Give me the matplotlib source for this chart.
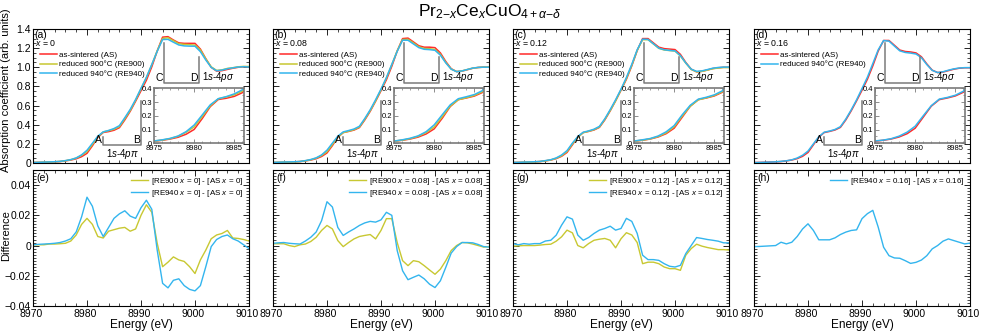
import numpy as np
import matplotlib
matplotlib.use('Agg')
import matplotlib.pyplot as plt
import matplotlib.transforms as mtrans
from matplotlib.ticker import MultipleLocator, FuncFormatter

plt.rcParams['font.family'] = ['Liberation Sans', 'DejaVu Sans']
plt.rcParams['mathtext.fontset'] = 'custom'
plt.rcParams['mathtext.rm'] = 'Liberation Sans'
plt.rcParams['mathtext.it'] = 'Liberation Sans:italic'
plt.rcParams['mathtext.sf'] = 'Liberation Sans'

# Energy grid (eV)
energy = np.arange(8970, 9011, 1)

# As-sintered spectra, one per Ce content
as_x000 = [0.005, 0.006, 0.008, 0.010, 0.012, 0.015, 0.022, 0.031, 0.044, 0.066,
           0.101, 0.180, 0.267, 0.319, 0.328, 0.342, 0.369, 0.45, 0.54, 0.645,
           0.755, 0.865, 1.005, 1.17, 1.315, 1.32, 1.285, 1.255, 1.25, 1.25,
           1.25, 1.19, 1.09, 1.0, 0.96, 0.965, 0.978, 0.99, 1.0, 1.005, 1.005]
as_x008 = [0.005, 0.006, 0.008, 0.010, 0.012, 0.015, 0.022, 0.031, 0.045, 0.068,
           0.105, 0.182, 0.268, 0.318, 0.330, 0.344, 0.37, 0.45, 0.54, 0.645,
           0.755, 0.87, 1.01, 1.17, 1.30, 1.305, 1.265, 1.225, 1.21, 1.21,
           1.205, 1.15, 1.06, 0.985, 0.955, 0.96, 0.975, 0.99, 0.998, 1.002, 1.002]
as_x012 = [0.005, 0.006, 0.008, 0.010, 0.012, 0.015, 0.022, 0.031, 0.046, 0.07,
           0.11, 0.19, 0.27, 0.318, 0.33, 0.345, 0.372, 0.45, 0.545, 0.65,
           0.76, 0.875, 1.015, 1.175, 1.30, 1.30, 1.255, 1.21, 1.195, 1.19,
           1.185, 1.135, 1.05, 0.98, 0.952, 0.958, 0.972, 0.987, 0.995, 1.0, 1.0]
as_x016 = [0.005, 0.006, 0.008, 0.010, 0.012, 0.015, 0.022, 0.031, 0.046, 0.07,
           0.11, 0.19, 0.27, 0.318, 0.33, 0.345, 0.372, 0.45, 0.545, 0.65,
           0.76, 0.875, 1.015, 1.17, 1.28, 1.28, 1.23, 1.18, 1.165, 1.16,
           1.15, 1.11, 1.035, 0.97, 0.945, 0.95, 0.965, 0.98, 0.99, 0.995, 0.995]

# Difference spectra [RE - AS]
d900_x000 = [0.0005, 0.0005, 0.0005, 0.001, 0.001, 0.0012, 0.0015, 0.003, 0.007, 0.014,
             0.018, 0.014, 0.006, 0.005, 0.0095, 0.0105, 0.0115, 0.012, 0.0095, 0.011,
             0.020, 0.027, 0.022, 0.0015, -0.014, -0.011, -0.0075, -0.0095, -0.0105, -0.014,
             -0.0185, -0.0095, -0.003, 0.0045, 0.007, 0.008, 0.010, 0.005, 0.0047, 0.004, 0.003]
d940_x000 = [0.0005, 0.0008, 0.001, 0.0012, 0.0015, 0.002, 0.003, 0.0045, 0.009, 0.019,
             0.032, 0.026, 0.013, 0.006, 0.012, 0.018, 0.021, 0.023, 0.0195, 0.018,
             0.025, 0.030, 0.024, -0.003, -0.025, -0.028, -0.023, -0.022, -0.0265, -0.029,
             -0.030, -0.0265, -0.014, -0.0007, 0.004, 0.006, 0.007, 0.0045, 0.003, 0.0005, -0.002]
d900_x008 = [0.0012, 0.0012, 0.0012, 0.0, -0.0007, 0.0005, 0.001, 0.0027, 0.0055, 0.010,
             0.0133, 0.011, 0.0033, -0.0007, 0.002, 0.0044, 0.006, 0.0067, 0.0073, 0.0044,
             0.010, 0.0178, 0.0178, 0.002, -0.010, -0.0133, -0.010, -0.0107, -0.0133, -0.0162,
             -0.019, -0.0156, -0.010, -0.0033, 0.0, 0.002, 0.0018, 0.001, 0.0, -0.001, -0.0007]
d940_x008 = [0.0015, 0.0018, 0.002, 0.0015, 0.0012, 0.001, 0.003, 0.0055, 0.009, 0.0165,
             0.029, 0.0255, 0.012, 0.0067, 0.009, 0.011, 0.0133, 0.015, 0.016, 0.0155,
             0.017, 0.022, 0.020, -0.0033, -0.0167, -0.0226, -0.021, -0.0195, -0.022, -0.0256,
             -0.0278, -0.0233, -0.0144, -0.005, -0.0007, 0.002, 0.002, 0.0018, 0.0007, -0.0007, -0.001]
d900_x012 = [-0.0004, -0.0002, 0.0, 0.0, 0.0, 0.0003, 0.0007, 0.0009, 0.0029, 0.0058,
             0.0102, 0.0084, 0.0, -0.0015, 0.0013, 0.0035, 0.0042, 0.0047, 0.0035, -0.0015,
             0.0045, 0.0085, 0.007, 0.002, -0.012, -0.011, -0.011, -0.012, -0.0142, -0.0153,
             -0.0153, -0.0164, -0.0064, -0.002, 0.0009, -0.0004, -0.0013, -0.002, -0.0027, -0.0027, -0.003]
d940_x012 = [0.0013, 0.0005, 0.0013, 0.0009, 0.0013, 0.0013, 0.003, 0.0035, 0.0069, 0.0135,
             0.019, 0.0175, 0.0069, 0.0035, 0.0053, 0.008, 0.0102, 0.0113, 0.0128, 0.0102,
             0.0113, 0.018, 0.016, 0.008, -0.0064, -0.0093, -0.0093, -0.0098, -0.012, -0.0137,
             -0.0142, -0.0131, -0.0053, 0.0, 0.0053, 0.0047, 0.004, 0.0035, 0.0029, 0.0018, 0.0018]
d940_x016 = [-0.0007, -0.0006, -0.0004, -0.0002, 0.0, 0.0022, 0.0011, 0.0022, 0.006, 0.011,
             0.0144, 0.010, 0.0038, 0.0038, 0.0038, 0.0051, 0.0073, 0.0089, 0.010, 0.0104,
             0.0178, 0.0211, 0.0233, 0.0122, -0.0011, -0.0067, -0.0082, -0.0084, -0.010, -0.0118,
             -0.0111, -0.0096, -0.0067, -0.0022, 0.0, 0.0029, 0.0044, 0.0033, 0.0022, 0.0011, 0.0016]

x_labels = ['0', '0.08', '0.12', '0.16']
panel_top = ['(a)', '(b)', '(c)', '(d)']
panel_bot = ['(e)', '(f)', '(g)', '(h)']
as_list = [as_x000, as_x008, as_x012, as_x016]
d900_list = [d900_x000, d900_x008, d900_x012, None]
d940_list = [d940_x000, d940_x008, d940_x012, d940_x016]

c_as = '#ff2a2a'
c_900 = '#c8c832'
c_940 = '#33b5ee'
c_gray = '#7a7a7a'

W, H = 981, 331
fig = plt.figure(figsize=(W / 100, H / 100), dpi=100)
fig.text(490 / W, 1 - 12 / H, r'Pr$_{2\mathrm{-}x}$Ce$_x$CuO$_{4+\alpha\mathrm{-}\delta}$',
         ha='center', va='center', fontsize=12.5)

lefts = [33, 273, 513, 754]
aw = 216


def fmt_n(nd):
    def f(v, pos):
        if abs(v) < 1e-9:
            return '0'
        return ('%.*f' % (nd, v)).replace('-', '\u2212')
    return f


def style(ax, xmin, ymin, lw=0.8, col='black'):
    ax.tick_params(which='both', direction='in', top=True, right=True, color=col)
    ax.tick_params(which='major', length=4, width=0.6)
    ax.tick_params(which='minor', length=2, width=0.5)
    ax.xaxis.set_minor_locator(MultipleLocator(xmin))
    ax.yaxis.set_minor_locator(MultipleLocator(ymin))
    for sp in ax.spines.values():
        sp.set_linewidth(lw)
        sp.set_color(col)


leg_kw = dict(frameon=False, fontsize=5.8, handlelength=2.1, handletextpad=0.35,
              labelspacing=0.2, borderpad=0.2)
bottom_axes = []

for i in range(4):
    ase = np.array(as_list[i])
    r940 = ase + np.array(d940_list[i])
    r900 = ase + np.array(d900_list[i]) if d900_list[i] is not None else None

    # --- top: spectra ---
    ax = fig.add_axes([lefts[i] / W, 1 - 163 / H, aw / W, 134 / H])
    ax.plot(energy, ase, color=c_as, lw=1.1, label='as-sintered (AS)')
    if r900 is not None:
        ax.plot(energy, r900, color=c_900, lw=1.1, label='reduced 900\u00b0C (RE900)')
    ax.plot(energy, r940, color=c_940, lw=1.1, label='reduced 940\u00b0C (RE940)')
    ax.set_xlim(8970, 9010)
    ax.set_ylim(0, 1.4)
    ax.xaxis.set_major_locator(MultipleLocator(10))
    ax.yaxis.set_major_locator(MultipleLocator(0.2))
    ax.yaxis.set_major_formatter(FuncFormatter(fmt_n(1)))
    style(ax, 2, 0.05)
    ax.tick_params(labelbottom=False, labelsize=7.5)
    ax.tick_params(axis='y', pad=1.5)
    if i == 0:
        ax.set_ylabel('Absorption coefficient (arb. units)', fontsize=8)
        ax.yaxis.set_label_coords(-0.1, 0.54)
    else:
        ax.tick_params(labelleft=False)
    ax.text(0.008, 0.957, panel_top[i], transform=ax.transAxes, ha='left', va='center', fontsize=7.5)
    ax.text(0.01, 0.893, r'$x$ = ' + x_labels[i], transform=ax.transAxes, ha='left', va='center', fontsize=6.3)
    ax.legend(loc='upper left', bbox_to_anchor=(0.005, 0.875), **leg_kw)

    # brackets
    ax.plot([8983, 8983, 8990, 8990], [0.275, 0.19, 0.19, 0.65], color=c_gray, lw=1.1)
    ax.plot([8994.2, 8994.2, 9000.7, 9000.7], [1.25, 0.835, 0.835, 1.11], color=c_gray, lw=1.1)
    ax.text(8982.8, 0.19, 'A', ha='right', va='bottom', fontsize=7.5)
    ax.text(8989.8, 0.19, 'B', ha='right', va='bottom', fontsize=7.5)
    ax.text(8994.0, 0.835, 'C', ha='right', va='bottom', fontsize=7.5)
    ax.text(9000.5, 0.835, 'D', ha='right', va='bottom', fontsize=7.5)
    ax.text(8986.5, 0.165, r'1$s$-4$p\pi$', ha='center', va='top', fontsize=7)
    ax.text(9001.3, 0.83, r'1$s$-4$p\sigma$', ha='left', va='bottom', fontsize=7)

    # inset
    ins = ax.inset_axes([0.56, 0.147, 0.417, 0.41])
    ins.plot(energy, ase, color=c_as, lw=1.1)
    if r900 is not None:
        ins.plot(energy, r900, color=c_900, lw=1.1)
    ins.plot(energy, r940, color=c_940, lw=1.1)
    ins.set_xlim(8975, 8986.2)
    ins.set_ylim(0, 0.4)
    ins.xaxis.set_major_locator(MultipleLocator(5))
    ins.yaxis.set_major_locator(MultipleLocator(0.1))
    ins.yaxis.set_major_formatter(FuncFormatter(fmt_n(1)))
    style(ins, 1, 0.05, lw=1.2, col=c_gray)
    ins.tick_params(which='major', length=3)
    ins.tick_params(which='minor', length=1.5)
    ins.tick_params(labelsize=5.5, pad=1.5, labelcolor='black')

    # --- bottom: differences ---
    bx = fig.add_axes([lefts[i] / W, 1 - 306 / H, aw / W, 136 / H])
    if d900_list[i] is not None:
        bx.plot(energy, d900_list[i], color=c_900, lw=1.0,
                label='[RE900 $x$ = %s] - [AS $x$ = %s]' % (x_labels[i], x_labels[i]))
    bx.plot(energy, d940_list[i], color=c_940, lw=1.0,
            label='[RE940 $x$ = %s] - [AS $x$ = %s]' % (x_labels[i], x_labels[i]))
    bx.set_xlim(8970, 9010)
    bx.set_ylim(-0.04, 0.05)
    bx.xaxis.set_major_locator(MultipleLocator(10))
    bx.yaxis.set_major_locator(MultipleLocator(0.02))
    bx.yaxis.set_major_formatter(FuncFormatter(fmt_n(2)))
    style(bx, 2, 0.002)
    bx.tick_params(labelsize=7.5)
    bx.tick_params(axis='y', pad=1.5)
    bx.tick_params(axis='x', pad=2.5)
    bx.set_xlabel('Energy (eV)', fontsize=8.5, labelpad=0)
    if i == 0:
        bx.set_ylabel('Difference', fontsize=8)
        bx.yaxis.set_label_coords(-0.1, 0.515)
    else:
        bx.tick_params(labelleft=False)
    bx.text(0.015, 0.975, panel_bot[i], transform=bx.transAxes, ha='left', va='top', fontsize=7.5)
    bx.legend(loc='upper right', bbox_to_anchor=(1.0, 1.0), **leg_kw)
    bottom_axes.append(bx)

# nudge edge tick labels inward so neighbouring panels do not collide
fig.canvas.draw()
for bx in bottom_axes:
    ticks = bx.xaxis.get_major_ticks()
    for k, t in enumerate(ticks):
        if k == 0:
            dx = 2
        elif k == len(ticks) - 1:
            dx = -6
        else:
            dx = -2
        t.label1.set_transform(t.label1.get_transform() +
                               mtrans.ScaledTranslation(dx / 100, 0, fig.dpi_scale_trans))

fig.savefig('out.png', dpi=100)
